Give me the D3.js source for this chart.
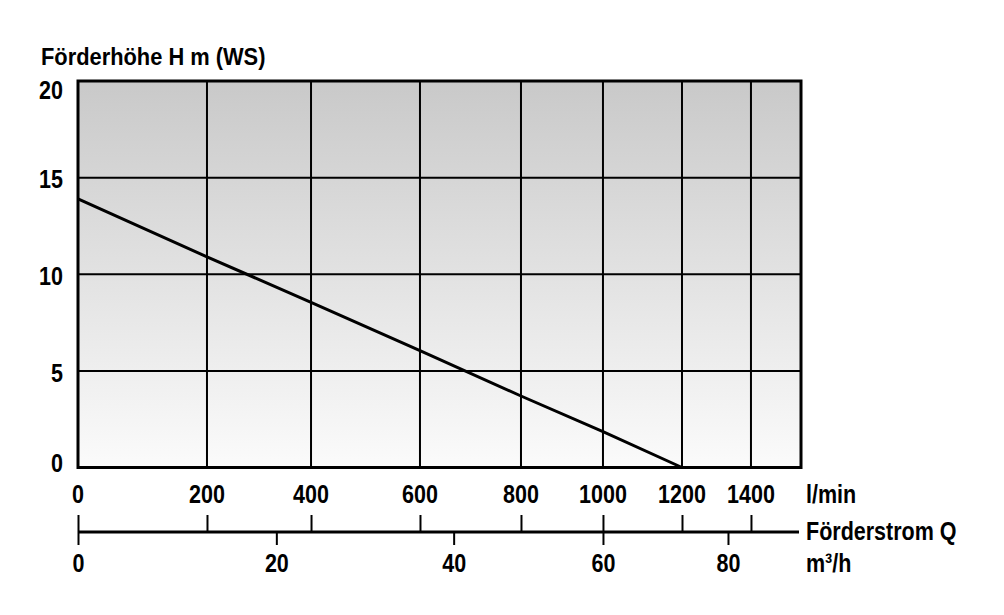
<!DOCTYPE html>
<html>
<head>
<meta charset="utf-8">
<script src="https://cdn.jsdelivr.net/npm/d3@7"></script>
<style>
  body { margin: 0; background: #fff; }
  text { font-family: 'Liberation Sans', Arial, sans-serif; font-weight: bold; fill: #000; }
</style>
</head>
<body>
<script>
// pump curve: Förderhöhe over Förderstrom
const flowTicks = [0, 200, 400, 600, 800, 1000, 1200, 1400];   // l/min
const flowTicksM3h = [0, 20, 40, 60, 80];                        // m³/h
const headTicks = [0, 5, 10, 15, 20];                            // m
const curveFlow = [0, 200, 400, 600, 800, 1000, 1200];
const curveHead = [13.9, 10.9, 8.55, 6.05, 3.7, 1.85, 0];

const width = 1004, height = 615;
const plot = {left: 78, top: 81, right: 801, bottom: 467.5};
const plotW = plot.right - plot.left;
const fontSize = '25px';

// the printed scale is not evenly spaced, so use a piecewise scale
const flowMax = 1545;
const xStops = [0, 0.1784, 0.3223, 0.473, 0.6127, 0.7261, 0.8354, 0.9308, 1];

const x = d3.scaleLinear()
    .domain(flowTicks.concat([flowMax]))
    .range(xStops.map(f => plot.left + f * plotW));

const y = d3.scaleLinear()
    .domain([0, 20])
    .range([plot.bottom, plot.top]);

const svg = d3.select('body').append('svg')
    .attr('width', width)
    .attr('height', height);

// squeeze text horizontally, the original uses a condensed bold face
function condense(sel, factor) {
    sel.each(function() {
        const w = this.getComputedTextLength();
        d3.select(this)
            .attr('textLength', w * factor)
            .attr('lengthAdjust', 'spacingAndGlyphs');
    });
}

const defs = svg.append('defs');
const grad = defs.append('linearGradient')
    .attr('id', 'bg')
    .attr('x1', 0).attr('y1', 0).attr('x2', 0).attr('y2', 1);
grad.append('stop').attr('offset', '0%').attr('stop-color', '#c9c9c9');
grad.append('stop').attr('offset', '50%').attr('stop-color', '#e2e2e2');
grad.append('stop').attr('offset', '100%').attr('stop-color', '#fbfbfb');

svg.append('rect')
    .attr('x', plot.left)
    .attr('y', plot.top)
    .attr('width', plotW)
    .attr('height', plot.bottom - plot.top)
    .style('fill', 'url(#bg)');

// grid
svg.append('g').attr('class', 'hgrid')
    .selectAll('line')
    .data(headTicks.slice(1, -1))
    .enter().append('line')
    .attr('x1', plot.left).attr('x2', plot.right)
    .attr('y1', d => y(d)).attr('y2', d => y(d))
    .style('stroke', '#000').style('stroke-width', 2);

svg.append('g').attr('class', 'vgrid')
    .selectAll('line')
    .data(flowTicks.slice(1))
    .enter().append('line')
    .attr('x1', d => x(d)).attr('x2', d => x(d))
    .attr('y1', plot.top).attr('y2', plot.bottom)
    .style('stroke', '#000').style('stroke-width', 2);

// curve
const line = d3.line()
    .x(d => x(d[0]))
    .y(d => y(d[1]));

svg.append('path')
    .datum(d3.zip(curveFlow, curveHead))
    .attr('d', line)
    .style('fill', 'none')
    .style('stroke', '#000')
    .style('stroke-width', 3);

// frame
svg.append('rect')
    .attr('x', plot.left)
    .attr('y', plot.top)
    .attr('width', plotW)
    .attr('height', plot.bottom - plot.top)
    .style('fill', 'none')
    .style('stroke', '#000')
    .style('stroke-width', 3);

// y labels (the top one sits just below the frame edge)
svg.append('g').selectAll('text')
    .data(headTicks)
    .enter().append('text')
    .attr('x', 63)
    .attr('y', d => Math.min(Math.max(y(d) + 2, plot.top + 9), plot.bottom - 4))
    .attr('dy', '0.35em')
    .attr('text-anchor', 'end')
    .style('font-size', fontSize)
    .text(d => d)
    .call(condense, 0.86);

svg.append('text')
    .attr('x', 41)
    .attr('y', 65)
    .style('font-size', '24px')
    .text('Förderhöhe H m (WS)')
    .call(condense, 0.91);

// l/min labels under the plot
svg.append('g').selectAll('text')
    .data(flowTicks)
    .enter().append('text')
    .attr('x', d => x(d))
    .attr('y', 503)
    .attr('text-anchor', 'middle')
    .style('font-size', fontSize)
    .text(d => d)
    .call(condense, 0.86);

// second axis: l/min ticks up, m³/h ticks down
const axisY = 532;
svg.append('g')
    .attr('transform', 'translate(0,' + axisY + ')')
    .call(d3.axisTop(x).tickValues(flowTicks).tickSize(17).tickSizeOuter(0).tickFormat(''))
    .call(g => g.select('.domain').attr('d', 'M' + plot.left + ',0H' + (plot.right - 2)));

const m3hAxis = svg.append('g')
    .attr('transform', 'translate(0,' + axisY + ')')
    .call(d3.axisBottom(x)
        .tickValues(flowTicksM3h.map(m => m * 1000 / 60))
        .tickSize(13).tickSizeOuter(0).tickPadding(9)
        .tickFormat(d => Math.round(d * 60 / 1000)))
    .call(g => g.select('.domain').remove());

svg.selectAll('.tick line').style('stroke', '#000').style('stroke-width', 2);
svg.selectAll('.domain').style('stroke', '#000').style('stroke-width', 3);
m3hAxis.attr('font-family', null).attr('font-size', null);
m3hAxis.selectAll('text')
    .style('font-size', fontSize)
    .attr('fill', '#000')
    .call(condense, 0.86);

// unit labels on the right
const unitX = 806;
const units = svg.append('g');
units.append('text').attr('x', unitX).attr('y', 503).text('l/min');
units.append('text').attr('x', unitX).attr('y', 540).text('Förderstrom Q');
units.append('text').attr('x', unitX).attr('y', 572).text('m³/h');
units.selectAll('text').style('font-size', fontSize).call(condense, 0.86);
</script>
</body>
</html>
